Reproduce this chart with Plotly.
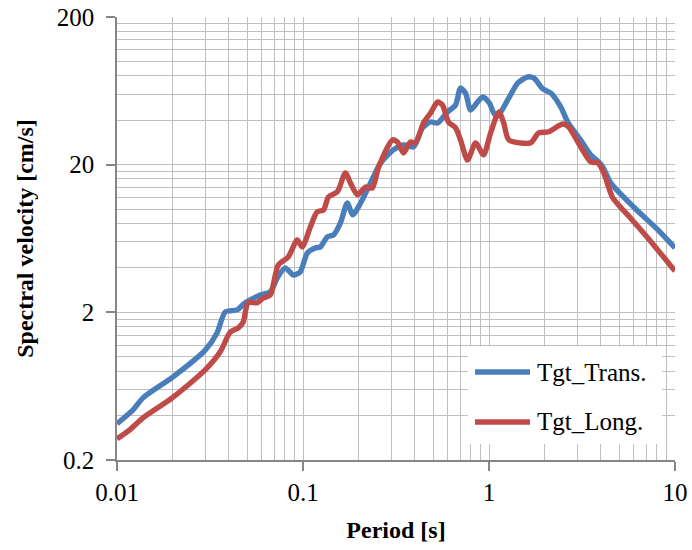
import plotly.graph_objects as go

# ---- data ----
period_trans = [0.01, 0.0122, 0.0138, 0.0200, 0.0298, 0.0345, 0.0382, 0.0443, 0.0489, 0.0589,
                0.0667, 0.0727, 0.0803, 0.0887, 0.0967, 0.1055, 0.1164, 0.124, 0.135, 0.146,
                0.159, 0.173, 0.185, 0.204, 0.239, 0.261, 0.306, 0.347, 0.393, 0.439,
                0.485, 0.529, 0.598, 0.661, 0.703, 0.748, 0.796, 0.869, 0.925, 1.004,
                1.06, 1.11, 1.26, 1.43, 1.61, 1.74, 1.95, 2.15, 2.43, 2.65,
                3.11, 3.52, 3.89, 4.09, 4.52, 6.01, 8.09, 10.0]
sv_trans = [0.352, 0.437, 0.527, 0.731, 1.11, 1.45, 2.01, 2.08, 2.32, 2.62,
            2.75, 3.42, 4.0, 3.58, 3.76, 5.05, 5.46, 5.55, 6.48, 6.69,
            8.06, 11.0, 9.14, 11.0, 16.5, 20.5, 25.2, 27.2, 26.4, 35.5,
            38.9, 38.3, 45.5, 50.7, 66.1, 61.1, 46.9, 53.2, 57.5, 52.3,
            44.8, 42.5, 54.8, 71.5, 78.5, 77.3, 65.1, 61.1, 49.2, 38.9,
            29.4, 23.3, 20.9, 19.3, 15.0, 10.3, 7.23, 5.46]

period_long = [0.01, 0.0117, 0.0138, 0.0198, 0.0298, 0.0359, 0.0406, 0.0449, 0.0477, 0.0507,
               0.0567, 0.0611, 0.0667, 0.0736, 0.0833, 0.0931, 0.099, 0.1095, 0.119, 0.129,
               0.137, 0.153, 0.169, 0.180, 0.196, 0.217, 0.236, 0.255, 0.303, 0.322,
               0.347, 0.378, 0.403, 0.444, 0.485, 0.529, 0.562, 0.605, 0.661, 0.703,
               0.767, 0.847, 0.935, 1.02, 1.13, 1.20, 1.28, 1.67, 1.85, 2.09,
               2.49, 2.68, 3.11, 3.52, 3.85, 4.14, 4.63, 5.57, 7.14, 10.0]
sv_long = [0.278, 0.320, 0.386, 0.527, 0.815, 1.08, 1.47, 1.57, 1.72, 2.32,
           2.32, 2.50, 2.62, 4.19, 4.74, 6.18, 5.54, 7.57, 9.57, 9.87,
           12.1, 13.1, 17.6, 15.0, 12.5, 14.1, 13.9, 19.3, 29.4, 28.5,
           24.0, 28.5, 28.1, 38.3, 44.8, 53.2, 50.7, 38.9, 35.5, 29.4,
           21.5, 28.1, 23.3, 32.8, 45.5, 38.3, 29.4, 28.1, 32.8, 33.4,
           37.7, 36.0, 26.4, 20.9, 20.5, 17.6, 11.9, 9.14, 6.38, 3.81]

x_ticks = [0.01, 0.1, 1, 10]
x_ticktext = ["0.01", "0.1", "1", "10"]
y_ticks = [0.2, 2, 20, 200]
y_ticktext = ["0.2", "2", "20", "200"]

series_names = ["Tgt_Trans.", "Tgt_Long."]
colors = ["#4a7ebb", "#be4b48"]

x_minor = [m * d for d in (0.01, 0.1, 1) for m in range(2, 10)]
y_minor = [m * d for d in (0.2, 2, 20) for m in range(2, 10)]

GRID = "#bfbfbf"
AXIS = "#868686"
FONT = "'Liberation Serif', 'Times New Roman', Times, serif"

fig = go.Figure()
for i, (xs, ys) in enumerate([(period_trans, sv_trans), (period_long, sv_long)]):
    fig.add_trace(go.Scatter(
        x=xs, y=ys, mode="lines", name=series_names[i], showlegend=False,
        line=dict(color=colors[i], width=5.4, shape="spline", smoothing=0.7),
    ))

# ---- legend drawn as a white box with line samples and labels (paper coordinates) ----
shapes = [dict(type="rect", xref="paper", yref="paper", x0=0.629, x1=0.977, y0=0.036, y1=0.257,
               fillcolor="white", line=dict(width=0), layer="above")]
annotations = []
legend_rows_y = [0.1986, 0.0858]
for i, name in enumerate(series_names):
    yy = legend_rows_y[i]
    shapes.append(dict(type="line", xref="paper", yref="paper", x0=0.6416, x1=0.7401, y0=yy, y1=yy,
                       line=dict(color=colors[i], width=5.4), layer="above"))
    annotations.append(dict(xref="paper", yref="paper", x=0.749, y=yy, xanchor="left", yanchor="middle",
                            text=name, showarrow=False,
                            font=dict(family=FONT, size=25, color="black")))

fig.update_layout(
    width=692, height=550,
    margin=dict(l=117, r=17, t=17, b=90),
    plot_bgcolor="white", paper_bgcolor="white",
    font=dict(family=FONT, color="black", size=25),
    showlegend=False,
    shapes=shapes, annotations=annotations,
    xaxis=dict(
        type="log", range=[-2, 1], automargin=False,
        tickmode="array", tickvals=x_ticks, ticktext=x_ticktext,
        ticks="outside", ticklen=9, tickcolor=AXIS, tickwidth=1.5,
        showline=True, linecolor=AXIS, linewidth=1.5,
        showgrid=True, gridcolor=GRID, gridwidth=1.3,
        minor=dict(tickvals=x_minor, showgrid=True, gridcolor=GRID, gridwidth=1.3, ticks=""),
        tickfont=dict(family=FONT, size=25, color="black"),
        title=dict(text="<b>Period [s]</b>", font=dict(family=FONT, size=24, color="black"), standoff=16),
        zeroline=False,
    ),
    yaxis=dict(
        type="log", range=[-0.69897, 2.30103], automargin=False,
        tickmode="array", tickvals=y_ticks, ticktext=y_ticktext,
        ticks="outside", ticklen=9, tickcolor=AXIS, tickwidth=1.5,
        showline=True, linecolor=AXIS, linewidth=1.5,
        showgrid=True, gridcolor=GRID, gridwidth=1.3,
        minor=dict(tickvals=y_minor, showgrid=True, gridcolor=GRID, gridwidth=1.3, ticks=""),
        tickfont=dict(family=FONT, size=25, color="black"),
        ticklabelstandoff=7,
        title=dict(text="<b>Spectral velocity [cm/s]</b>", font=dict(family=FONT, size=24, color="black"), standoff=16),
        zeroline=False,
    ),
)

fig.write_html("out.html")
